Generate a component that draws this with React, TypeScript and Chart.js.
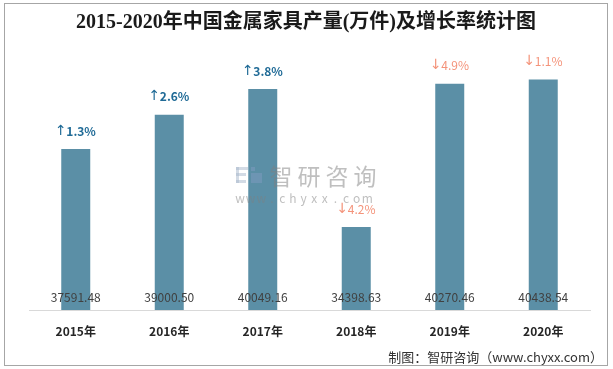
import React, { useEffect, useRef } from "react";
import { Chart, registerables } from "chart.js";

Chart.register(...registerables);

const categories = ["2015年", "2016年", "2017年", "2018年", "2019年", "2020年"];
const production = [37591.48, 39000.5, 40049.16, 34398.63, 40270.46, 40438.54];
const valueLabels = ["37591.48", "39000.50", "40049.16", "34398.63", "40270.46", "40438.54"];
const growthLabels = ["1.3%", "2.6%", "3.8%", "4.2%", "4.9%", "1.1%"];
const growthUp = [true, true, true, false, false, false];

const TITLE = "2015-2020年中国金属家具产量(万件)及增长率统计图";
const SOURCE = "制图：智研咨询（www.chyxx.com）";

const CJK = '"Noto Sans CJK SC", "Noto Sans", sans-serif';

const decorPlugin = {
  id: "decor",
  beforeDraw(chart: any) {
    const ctx = chart.ctx;
    ctx.save();
    ctx.fillStyle = "#ffffff";
    ctx.fillRect(0, 0, chart.width, chart.height);
    ctx.strokeStyle = "#A6A6A6";
    ctx.lineWidth = 1;
    ctx.strokeRect(4.5, 3.5, 603, 362);
    // title
    ctx.fillStyle = "#1a1a1a";
    ctx.font = 'bold 20px "Liberation Serif", "Noto Sans CJK SC", serif';
    ctx.textAlign = "center";
    ctx.textBaseline = "middle";
    ctx.fillText(TITLE, 306, 23);
    // footer
    ctx.font = "13px " + CJK;
    ctx.fillStyle = "#333333";
    ctx.textAlign = "right";
    ctx.fillText(SOURCE, 603, 357);
    ctx.restore();
  },
  afterDatasetsDraw(chart: any) {
    const ctx = chart.ctx;
    const meta = chart.getDatasetMeta(0);
    ctx.save();
    // watermark
    ctx.globalAlpha = 0.5;
    ctx.fillStyle = "#A8B8CC";
    ctx.fillRect(236, 167, 12, 3);
    ctx.fillRect(236, 167, 3, 16);
    ctx.fillRect(236, 173, 10, 3);
    ctx.fillRect(236, 180, 10, 3);
    ctx.fillStyle = "#7F9CC0";
    ctx.fillRect(251, 167, 4, 4);
    ctx.fillRect(251, 173, 11, 10);
    ctx.fillStyle = "#808080";
    ctx.font = "23px " + CJK;
    ctx.textAlign = "center";
    ctx.textBaseline = "middle";
    const wt = "智研咨询";
    for (let k = 0; k < wt.length; k++) {
      ctx.fillText(wt[k], 281 + k * 28, 176);
    }
    ctx.font = "12px " + CJK;
    const wm = "www.chyxx.com";
    for (let k = 0; k < wm.length; k++) {
      ctx.fillText(wm[k], 240 + k * 10.6, 198);
    }
    ctx.restore();

    ctx.save();
    ctx.textBaseline = "middle";
    meta.data.forEach((bar: any, i: number) => {
      ctx.textAlign = "center";
      ctx.font = "12px " + CJK;
      ctx.fillStyle = "#404040";
      ctx.fillText(valueLabels[i], bar.x, chart.chartArea.bottom - 13);
      const up = growthUp[i];
      const txtFont = (up ? "bold " : "") + "12px " + CJK;
      const arrFont = '14px "DejaVu Sans", sans-serif';
      const arrow = up ? "↑" : "↓";
      ctx.font = txtFont;
      const tw = ctx.measureText(growthLabels[i]).width;
      ctx.font = arrFont;
      const aw = ctx.measureText(arrow).width - 1;
      const start = bar.x - (tw + aw) / 2;
      ctx.textAlign = "left";
      ctx.fillStyle = up ? "#1F6A96" : "#F4937A";
      ctx.fillText(arrow, start - 0.5, bar.y - 18);
      ctx.font = txtFont;
      ctx.fillText(growthLabels[i], start + aw, bar.y - 18);
    });
    ctx.restore();
  },
};

export default function App() {
  const ref = useRef<HTMLCanvasElement>(null);
  useEffect(() => {
    document.body.style.margin = "0";
    const chart = new Chart(ref.current!, {
      type: "bar",
      data: {
        labels: categories,
        datasets: [
          {
            data: production,
            backgroundColor: "#5B8FA6",
            borderColor: "#4F8199",
            borderWidth: 0,
            barPercentage: 0.31,
            categoryPercentage: 1,
          },
        ],
      },
      options: {
        animation: false,
        responsive: false,
        devicePixelRatio: 1,
        layout: { padding: { top: 41.5, left: 29, right: 23, bottom: 0 } },
        plugins: {
          legend: { display: false },
          title: { display: false },
          tooltip: { enabled: false },
        },
        scales: {
          y: { display: false, min: 31000, max: 42000 },
          x: {
            afterFit(scale: any) {
              scale.height = 59;
            },
            grid: { display: false, drawTicks: false },
            border: { display: true, color: "#D9D9D9", width: 1 },
            ticks: {
              padding: 14,
              color: "#262626",
              font: { family: CJK, size: 12, weight: "bold" },
            },
          },
        },
      },
      plugins: [decorPlugin],
    });
    return () => chart.destroy();
  }, []);
  return <canvas ref={ref} width={613} height={369} style={{ display: "block" }} />;
}
